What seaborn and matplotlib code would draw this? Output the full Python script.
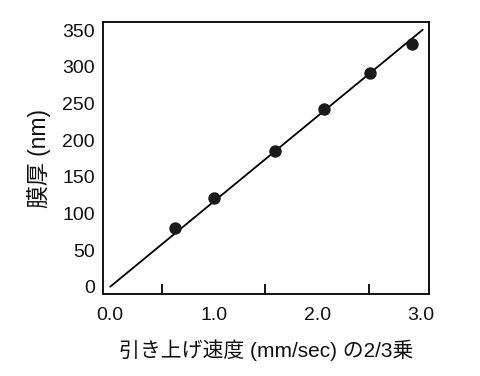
import matplotlib
matplotlib.use("Agg")
import matplotlib.pyplot as plt
import seaborn as sns
import numpy as np
import pandas as pd
from matplotlib.ticker import MultipleLocator

# data
speed_23 = [0.63, 1.00, 1.59, 2.07, 2.51, 2.92]
thickness = [80, 121, 185, 242, 292, 331]
fit_x = [0.0, 3.02]
fit_y = [0.0, 350.5]
x_ticks = [0.0, 1.0, 2.0, 3.0]
x_tick_labels = ["0.0", "1.0", "2.0", "3.0"]
y_ticks = [0, 50, 100, 150, 200, 250, 300, 350]

sns.set_theme(style="white")
plt.rcParams['font.family'] = ['Liberation Sans', 'Noto Sans CJK JP', 'DejaVu Sans']

fig = plt.figure(figsize=(4.8, 3.76), dpi=100)
ax = fig.add_axes([103/480, 1-294/376, (429-103)/480, (294-22)/376])

pts = pd.DataFrame({"x": speed_23, "y": thickness})
fit = pd.DataFrame({"x": fit_x, "y": fit_y})
sns.lineplot(data=fit, x="x", y="y", ax=ax, color="black", linewidth=1.3)
sns.scatterplot(data=pts, x="x", y="y", ax=ax, color="#1a1a1a", s=80, edgecolor="#1a1a1a", linewidth=0, zorder=3)

ax.set_xlim(-0.07, 3.08)
ax.set_ylim(-10, 361)
ax.set_xticks(x_ticks)
ax.set_xticklabels(x_tick_labels)
ax.xaxis.set_minor_locator(MultipleLocator(0.5))
ax.set_yticks(y_ticks)
ax.tick_params(axis="both", which="major", direction="in", length=13, width=1.3,
               color="black", labelsize=14, labelcolor="#111111", pad=4)
ax.tick_params(axis="x", which="minor", direction="in", length=7, width=1.3,
               color="black", bottom=True)
ax.tick_params(axis="x", which="major", pad=9)
ax.tick_params(axis="y", which="major", pad=6)
for s in ax.spines.values():
    s.set_color("black")
    s.set_linewidth(1.3)

ax.set_xlabel("引き上げ速度 (mm/sec) の2/3乗", fontsize=15,
              family=['Liberation Sans', 'Noto Sans CJK JP', 'DejaVu Sans'],
              labelpad=11, color="#111111")
ax.set_ylabel("膜厚 (nm)", fontsize=16.5,
              family=['Liberation Sans', 'Noto Sans CJK JP', 'DejaVu Sans'],
              labelpad=8, color="#111111")

fig.savefig("out.png", dpi=100)
